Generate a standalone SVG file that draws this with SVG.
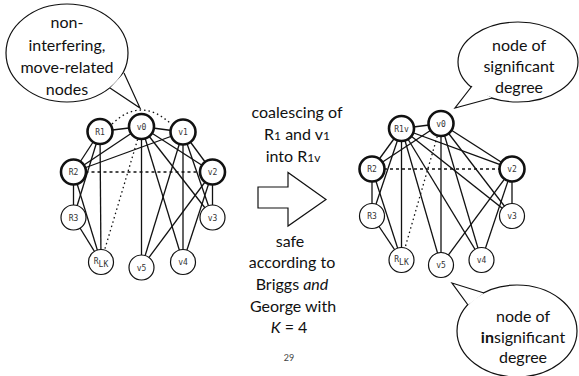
<svg xmlns="http://www.w3.org/2000/svg" width="579" height="376" viewBox="0 0 579 376">
<style>
.t{font-family:Lato,"Open Sans","Liberation Sans",sans-serif;font-size:16px;fill:#111;text-anchor:middle}
.e line{stroke:#111;stroke-width:1.3}
.dot{stroke:#111;stroke-width:1.3;stroke-dasharray:1.5 3;fill:none}
.dash{stroke:#111;stroke-width:1.2;stroke-dasharray:3 3;fill:none}
.n circle{fill:#fff;stroke:#111;stroke-width:1.2}
.n.k circle{stroke-width:2.6}
.n text{font-family:"DejaVu Sans Mono",monospace;font-size:8px;fill:#333;text-anchor:middle}
.b{fill:#fff;stroke:#111;stroke-width:1.2}
</style>
<rect width="579" height="376" fill="#fff"/>

<!-- callouts -->
<g id="callout-nonint">
<ellipse class="b" cx="67" cy="53" rx="61" ry="49"/>
<path class="b" d="M110,88 L140,108 L124,73"/>
<text class="t" x="67" y="28">non-</text>
<text class="t" x="67" y="51">interfering,</text>
<text class="t" x="67" y="73">move-related</text>
<text class="t" x="67" y="95">nodes</text>
</g>
<g id="callout-sig">
<ellipse class="b" cx="518" cy="62" rx="60" ry="40"/>
<path class="b" d="M472,86 L455,108 L492,98"/>
<text class="t" x="519" y="51">node of</text>
<text class="t" x="519" y="72">significant</text>
<text class="t" x="519" y="93">degree</text>
</g>
<g id="callout-insig">
<ellipse class="b" cx="517" cy="331" rx="60" ry="46"/>
<path class="b" d="M468,305 L452,283 L484,293"/>
<text class="t" x="523" y="322">node of</text>
<text class="t" x="523" y="343"><tspan font-weight="bold">in</tspan>significant</text>
<text class="t" x="523" y="363">degree</text>
</g>

<!-- middle -->
<g id="middle">
<text class="t" x="297" y="118">coalescing of</text>
<text class="t" x="297" y="140">R<tspan font-size="12">1</tspan> and v<tspan font-size="12">1</tspan></text>
<text class="t" x="293" y="162">into R<tspan font-size="12">1v</tspan></text>
<path d="M258,187 L288,187 L288,172.5 L326,199.5 L288,226 L288,208 L258,208 Z" fill="#fff" stroke="#111" stroke-width="1.2"/>
<text class="t" x="290" y="247">safe</text>
<text class="t" x="292" y="268">according to</text>
<text class="t" x="292" y="290">Briggs <tspan font-style="italic">and</tspan></text>
<text class="t" x="293" y="312">George with</text>
<text class="t" x="289" y="333"><tspan font-style="italic">K</tspan> = 4</text>
<text x="289" y="361" font-family="Lato,sans-serif" font-size="9" fill="#444" text-anchor="middle">29</text>
</g>

<!-- left graph connectors -->
<g id="edges-left" class="e">
<line x1="100" y1="131.5" x2="141.5" y2="126.5"/>
<line x1="141.5" y1="126.5" x2="183" y2="132"/>
<line x1="100" y1="131.5" x2="73.5" y2="172"/>
<line x1="100" y1="131.5" x2="73.5" y2="217.5"/>
<line x1="100" y1="131.5" x2="101" y2="262"/>
<line x1="73.5" y1="172" x2="73.5" y2="217.5"/>
<line x1="73.5" y1="172" x2="101" y2="262"/>
<line x1="73.5" y1="217.5" x2="101" y2="262"/>
<line x1="73.5" y1="172" x2="141.5" y2="126.5"/>
<line x1="73.5" y1="172" x2="183" y2="132"/>
<line x1="141.5" y1="126.5" x2="141.5" y2="267.5"/>
<line x1="141.5" y1="126.5" x2="183" y2="262"/>
<line x1="141.5" y1="126.5" x2="212.5" y2="172"/>
<line x1="141.5" y1="126.5" x2="212.5" y2="217.5"/>
<line x1="183" y1="132" x2="212.5" y2="172"/>
<line x1="183" y1="132" x2="212.5" y2="217.5"/>
<line x1="183" y1="132" x2="183" y2="262"/>
<line x1="183" y1="132" x2="141.5" y2="267.5"/>
<line x1="212.5" y1="172" x2="212.5" y2="217.5"/>
<line x1="212.5" y1="172" x2="141.5" y2="267.5"/>
<line x1="212.5" y1="172" x2="183" y2="262"/>
<path class="dot" d="M112,124 Q141,96 171,124"/>
<line class="dot" x1="141.5" y1="126.5" x2="101" y2="262"/>
<line class="dash" x1="73.5" y1="172" x2="212.5" y2="172"/>
</g>

<!-- right graph connectors -->
<g id="edges-right" class="e">
<line x1="401.5" y1="128.5" x2="441" y2="123.5"/>
<line x1="401.5" y1="128.5" x2="372" y2="169"/>
<line x1="401.5" y1="128.5" x2="372" y2="216"/>
<line x1="401.5" y1="128.5" x2="401.5" y2="260"/>
<line x1="401.5" y1="128.5" x2="512" y2="169"/>
<line x1="401.5" y1="128.5" x2="512" y2="216"/>
<line x1="401.5" y1="128.5" x2="481.5" y2="260"/>
<line x1="401.5" y1="128.5" x2="441" y2="265"/>
<line x1="441" y1="123.5" x2="372" y2="169"/>
<line x1="441" y1="123.5" x2="441" y2="265"/>
<line x1="441" y1="123.5" x2="481.5" y2="260"/>
<line x1="441" y1="123.5" x2="512" y2="169"/>
<line x1="441" y1="123.5" x2="512" y2="216"/>
<line x1="372" y1="169" x2="372" y2="216"/>
<line x1="372" y1="169" x2="401.5" y2="260"/>
<line x1="372" y1="216" x2="401.5" y2="260"/>
<line x1="512" y1="169" x2="512" y2="216"/>
<line x1="512" y1="169" x2="441" y2="265"/>
<line x1="512" y1="169" x2="481.5" y2="260"/>
<line class="dot" x1="441" y1="123.5" x2="401.5" y2="260"/>
<line class="dash" x1="372" y1="169" x2="512" y2="169"/>
</g>

<!-- left nodes -->
<g id="L-R1" class="n k"><circle cx="100" cy="131.5" r="12.5"/><text x="100" y="134.5">R1</text></g>
<g id="L-v0" class="n k"><circle cx="141.5" cy="126.5" r="12.5"/><text x="141.5" y="129.5">v0</text></g>
<g id="L-v1" class="n k"><circle cx="183" cy="132" r="12.5"/><text x="183" y="135">v1</text></g>
<g id="L-R2" class="n k"><circle cx="73.5" cy="172" r="12.5"/><text x="73.5" y="175">R2</text></g>
<g id="L-v2" class="n k"><circle cx="212.5" cy="172" r="12.5"/><text x="212.5" y="175">v2</text></g>
<g id="L-R3" class="n"><circle cx="73.5" cy="217.5" r="12.5"/><text x="73.5" y="220.5">R3</text></g>
<g id="L-v3" class="n"><circle cx="212.5" cy="217.5" r="12.5"/><text x="212.5" y="220.5">v3</text></g>
<g id="L-RLK" class="n"><circle cx="101" cy="262" r="12.5"/><text x="101" y="264">R<tspan dy="3">LK</tspan></text></g>
<g id="L-v5" class="n"><circle cx="141.5" cy="267.5" r="12.5"/><text x="141.5" y="270.5">v5</text></g>
<g id="L-v4" class="n"><circle cx="183" cy="262" r="12.5"/><text x="183" y="265">v4</text></g>

<!-- right nodes -->
<g id="R-R1v" class="n k"><circle cx="401.5" cy="128.5" r="12.5"/><text x="401.5" y="131.5">R1v</text></g>
<g id="R-v0" class="n k"><circle cx="441" cy="123.5" r="12.5"/><text x="441" y="126.5">v0</text></g>
<g id="R-R2" class="n k"><circle cx="372" cy="169" r="12.5"/><text x="372" y="172">R2</text></g>
<g id="R-v2" class="n k"><circle cx="512" cy="169" r="12.5"/><text x="512" y="172">v2</text></g>
<g id="R-R3" class="n"><circle cx="372" cy="216" r="12.5"/><text x="372" y="219">R3</text></g>
<g id="R-v3" class="n"><circle cx="512" cy="216" r="12.5"/><text x="512" y="219">v3</text></g>
<g id="R-RLK" class="n"><circle cx="401.5" cy="260" r="12.5"/><text x="401.5" y="262">R<tspan dy="3">LK</tspan></text></g>
<g id="R-v5" class="n"><circle cx="441" cy="265" r="12.5"/><text x="441" y="268">v5</text></g>
<g id="R-v4" class="n"><circle cx="481.5" cy="260" r="12.5"/><text x="481.5" y="263">v4</text></g>
</svg>
